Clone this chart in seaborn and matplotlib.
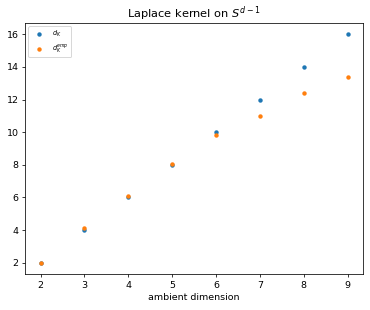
"""Laplace kernel on the sphere: theoretical vs empirical dimension."""

import matplotlib
matplotlib.use("Agg")
import matplotlib.pyplot as plt
import pandas as pd
import seaborn as sns

# ─── Data ─────────────────────────────────────────────────────────────────────

ambient_dim = [2, 3, 4, 5, 6, 7, 8, 9]
d_k = [2, 4, 6, 8, 10, 12, 14, 16]
d_k_emp = [2.0, 4.15, 6.08, 8.05, 9.83, 11.02, 12.43, 13.38]

# ─── Plot ─────────────────────────────────────────────────────────────────────

DPI = 68
fig = plt.figure(figsize=(370 / DPI, 310 / DPI), dpi=DPI)
ax = fig.add_axes([0.068, 0.116, 0.913, 0.81])

df = pd.DataFrame({"dim": ambient_dim, "dk": d_k, "dk_emp": d_k_emp})
sns.scatterplot(data=df, x="dim", y="dk", ax=ax, color="C0", s=22,
                linewidth=0, label=r"$d_K$")
sns.scatterplot(data=df, x="dim", y="dk_emp", ax=ax, color="C1", s=22,
                linewidth=0, label=r"$d_K^{emp}$")

ax.set_xlabel("ambient dimension")
ax.set_ylabel("")
ax.set_title(r"Laplace kernel on $S^{d-1}$")
ax.legend(loc="upper left", fontsize="x-small", handlelength=2.4)

fig.savefig("out.png", dpi=DPI)
plt.close(fig)
